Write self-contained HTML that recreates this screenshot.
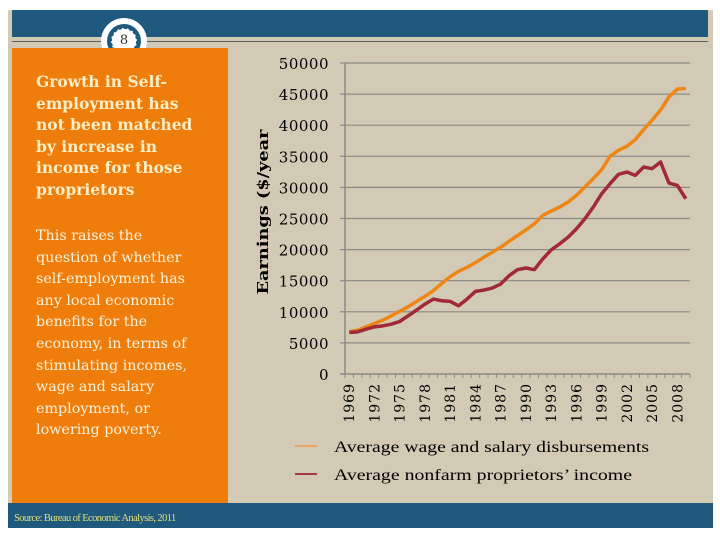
<!DOCTYPE html>
<html><head><meta charset="utf-8"><style>
body{margin:0;width:720px;height:540px;background:#fff;position:relative;overflow:hidden;font-family:"DejaVu Serif",serif}
.abs{position:absolute}
</style></head><body>
<div class="abs" style="left:8px;top:10px;width:705px;height:518px;background:#d3cab5"></div>
<div class="abs" style="left:12px;top:10px;width:696px;height:27px;background:#1f5a7e"></div>
<div class="abs" style="left:12px;top:41px;width:696px;height:1px;background:#55606a"></div>
<div class="abs" style="left:101px;top:18px;width:46px;height:46px;border-radius:50%;background:#fff"></div>
<div class="abs" style="left:107px;top:24px;width:34px;height:34px;border-radius:50%;background:#1f5a7e"></div>
<div class="abs" style="left:111px;top:28px;width:24px;height:24px;border-radius:50%;background:#fff;border:1px dashed #1f5a7e;font-size:13px;text-align:center;line-height:24px;color:#333">8</div>
<div class="abs" style="left:12px;top:48px;width:216px;height:456px;background:#ee7d0c"></div>
<div class="abs" style="left:36px;top:71px;width:180px;font-size:15.5px;font-weight:bold;line-height:21.6px;color:#fbeec5;white-space:nowrap">Growth in Self-<br>employment has<br>not been matched<br>by increase in<br>income for those<br>proprietors</div>
<div class="abs" style="left:36px;top:226px;width:185px;font-size:14.3px;line-height:21.6px;color:#fbf3dc;white-space:nowrap">This raises the<br>question of whether<br>self-employment has<br>any local economic<br>benefits for the<br>economy, in terms of<br>stimulating incomes,<br>wage and salary<br>employment, or<br>lowering poverty.</div>
<div class="abs" style="left:8px;top:503px;width:705px;height:25px;background:#1f5a7e"></div>
<div class="abs" style="left:14px;top:513px;font-family:'Liberation Serif',serif;font-size:10.5px;letter-spacing:-0.6px;color:#e6df7c">Source: Bureau of Economic Analysis, 2011</div>
<svg class="abs" style="left:0;top:0" width="720" height="540" id="chart"></svg>
<script>
const years=[];for(let y=1969;y<=2009;y++)years.push(y);
const tickYears=[1969,1972,1975,1978,1981,1984,1987,1990,1993,1996,1999,2002,2005,2008];
const yTicks=[0,5000,10000,15000,20000,25000,30000,35000,40000,45000,50000];
const wages=[6774,7043,7581,8118,8656,9355,10054,10806,11667,12473,13387,14570,15645,16505,17151,17903,18763,19570,20376,21344,22258,23172,24140,25484,26183,26828,27634,28710,30054,31398,32849,35000,35968,36613,37688,39301,40806,42419,44570,45806,45914];
const proprietors=[6667,6774,7204,7581,7742,8011,8441,9355,10269,11237,12043,11774,11667,10968,12043,13280,13495,13817,14462,15806,16774,17043,16774,18495,19946,20914,21989,23333,24946,26828,28978,30591,32097,32473,31935,33280,33011,34086,30699,30323,28172];
const svg=document.getElementById('chart');const NS='http://www.w3.org/2000/svg';
const X0=345,X1=690,Y0=374,Y1=63,YMAX=50000;
const FF='DejaVu Serif, serif';
const bw=(X1-X0)/years.length;
function xs(i){return X0+bw*(i+0.5);}
function ys(v){return Y0-(v/YMAX)*(Y0-Y1);}
function mk(t,a){const e=document.createElementNS(NS,t);for(const k in a)e.setAttribute(k,a[k]);svg.appendChild(e);return e;}
yTicks.forEach(v=>{
 if(v>0){const g=mk('line',{x1:X0,x2:X1,y1:ys(v),y2:ys(v),stroke:'#8a8a85','stroke-width':1.2});
 
 }
 const tk=mk('line',{x1:X0-5,x2:X0,y1:ys(v),y2:ys(v),stroke:'#8a8a85','stroke-width':1.2});
 
 
 const t=mk('text',{x:X0-16,y:ys(v)+6,'text-anchor':'end','font-size':15,'letter-spacing':0.5,'font-family':FF,fill:'#000'});
 t.textContent=v;
 
 
});
const ya=mk('line',{x1:X0,x2:X0,y1:Y1,y2:Y0,stroke:'#8a8a85','stroke-width':1.5});


const xa=mk('line',{x1:X0-5,x2:X1,y1:Y0,y2:Y0,stroke:'#8a8a85','stroke-width':1.5});


for(let i=0;i<=years.length;i++){const t=mk('line',{x1:X0+bw*i,x2:X0+bw*i,y1:Y0,y2:Y0+4,stroke:'#8a8a85','stroke-width':1});
 
 }
tickYears.forEach(yr=>{const i=years.indexOf(yr);const x=xs(i)+5;
 const t=mk('text',{x:x,y:Y0+9,'text-anchor':'end','font-size':14,'letter-spacing':1,'font-family':FF,fill:'#000',transform:`rotate(-90 ${x} ${Y0+9})`});
 t.textContent=yr;
 
 });
const at=mk('text',{x:268,y:212,'text-anchor':'middle','font-size':15,'font-weight':'bold','font-family':FF,fill:'#000',textLength:165,lengthAdjust:'spacingAndGlyphs',transform:'rotate(-90 268 212)'});
at.textContent='Earnings ($/year';


function line(arr,col,name){const p=mk('polyline',{points:arr.map((v,i)=>xs(i)+','+ys(v)).join(' '),fill:'none',stroke:col,'stroke-width':3.5,'stroke-linejoin':'round'});
 
 }
line(wages,'#ee8614','wage-series-line');
line(proprietors,'#a02a36','proprietors-series-line');
[['Average wage and salary disbursements','#e8a45c',446,315],['Average nonfarm proprietors\u2019 income','#a63a3e',474,298]].forEach(d=>{
 const l=mk('line',{x1:295,x2:317,y1:d[2],y2:d[2],stroke:d[1],'stroke-width':2});
 
 
 const t=mk('text',{x:334,y:d[2]+6,'font-size':16,'font-family':'Liberation Serif, serif',fill:'#000',textLength:d[3],lengthAdjust:'spacingAndGlyphs'});
 t.textContent=d[0];
 
 });
</script>
</body></html>
